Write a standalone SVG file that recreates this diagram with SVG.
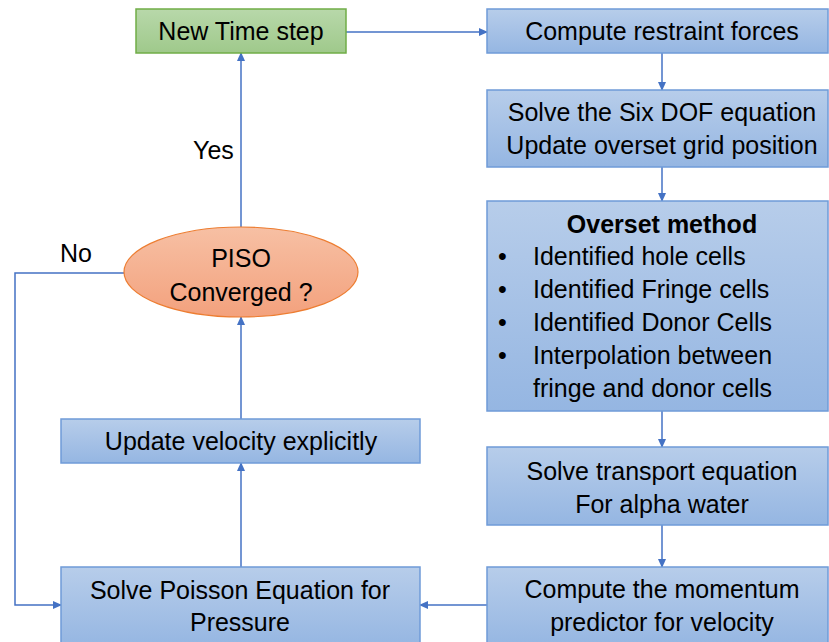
<svg xmlns="http://www.w3.org/2000/svg" width="829" height="642" viewBox="0 0 829 642">
<defs>
<linearGradient id="gBlue" x1="0" y1="0" x2="0" y2="1">
<stop offset="0" stop-color="#b7cdea"/>
<stop offset="1" stop-color="#95b6e2"/>
</linearGradient>
<linearGradient id="gGreen" x1="0" y1="0" x2="0" y2="1">
<stop offset="0" stop-color="#b8d8aa"/>
<stop offset="1" stop-color="#9fc98b"/>
</linearGradient>
<linearGradient id="gOrange" x1="0" y1="0" x2="0" y2="1">
<stop offset="0" stop-color="#f7c0a4"/>
<stop offset="1" stop-color="#f3a17d"/>
</linearGradient>
<marker id="arr" markerWidth="10" markerHeight="10" refX="8" refY="5" orient="auto" markerUnits="userSpaceOnUse">
<path d="M0,1 L9,5 L0,9 Z" fill="#4472c4"/>
</marker>
</defs>
<style>
.box{fill:url(#gBlue);stroke:#6f9bd8;stroke-width:1.5}
.green{fill:url(#gGreen);stroke:#70ad47;stroke-width:1.5}
.ell{fill:url(#gOrange);stroke:#ed7d31;stroke-width:1.2}
.t{font-family:"Liberation Sans",Arial,sans-serif;font-size:25px;fill:#000;text-anchor:middle}
.l{font-family:"Liberation Sans",Arial,sans-serif;font-size:25px;fill:#000}
.b{font-weight:bold}
.c{fill:none;stroke:#4472c4;stroke-width:1.5;marker-end:url(#arr)}
</style>
<g id="connectors">
<line class="c" x1="346" y1="32" x2="487" y2="32"/>
<line class="c" x1="662" y1="53" x2="662" y2="90"/>
<line class="c" x1="662" y1="167" x2="662" y2="201"/>
<line class="c" x1="662" y1="411" x2="662" y2="447"/>
<line class="c" x1="662" y1="525" x2="662" y2="567"/>
<line class="c" x1="487" y1="605" x2="420" y2="605"/>
<line class="c" x1="241" y1="567" x2="241" y2="463"/>
<line class="c" x1="241" y1="419" x2="241" y2="317"/>
<line class="c" x1="241" y1="227" x2="241" y2="53"/>
<polyline class="c" points="124,273 15,273 15,605 61,605"/>
<text class="l" x="193" y="159">Yes</text>
<text class="l" x="60" y="262">No</text>
</g>
<g id="new-time-step">
<rect class="green" x="136" y="9" width="210" height="44"/>
<text class="t" x="241" y="40">New Time step</text>
</g>
<g id="compute-restraint">
<rect class="box" x="487" y="9" width="341" height="44"/>
<text class="t" x="662" y="40">Compute restraint forces</text>
</g>
<g id="six-dof">
<rect class="box" x="487" y="90" width="341" height="77"/>
<text class="t" x="662" y="121">Solve the Six DOF equation</text>
<text class="t" x="662" y="154">Update overset grid position</text>
</g>
<g id="overset">
<rect class="box" x="487" y="201" width="341" height="210"/>
<text class="t b" x="662" y="233">Overset method</text>
<text class="l" x="498" y="265">•</text>
<text class="l" x="533" y="265">Identified hole cells</text>
<text class="l" x="498" y="298">•</text>
<text class="l" x="533" y="298">Identified Fringe cells</text>
<text class="l" x="498" y="331">•</text>
<text class="l" x="533" y="331">Identified Donor Cells</text>
<text class="l" x="498" y="364">•</text>
<text class="l" x="533" y="364">Interpolation between</text>
<text class="l" x="533" y="397">fringe and donor cells</text>
</g>
<g id="transport">
<rect class="box" x="487" y="447" width="341" height="78"/>
<text class="t" x="662" y="480">Solve transport equation</text>
<text class="t" x="662" y="513">For alpha water</text>
</g>
<g id="momentum">
<rect class="box" x="487" y="567" width="341" height="80"/>
<text class="t" x="662" y="598">Compute the momentum</text>
<text class="t" x="662" y="631">predictor for velocity</text>
</g>
<g id="poisson">
<rect class="box" x="61" y="567" width="359" height="80"/>
<text class="t" x="240" y="599">Solve Poisson Equation for</text>
<text class="t" x="240" y="631">Pressure</text>
</g>
<g id="update-velocity">
<rect class="box" x="61" y="419" width="359" height="44"/>
<text class="t" x="241" y="450">Update velocity explicitly</text>
</g>
<g id="piso">
<ellipse class="ell" cx="241" cy="272" rx="117" ry="45"/>
<text class="t" x="241" y="267">PISO</text>
<text class="t" x="241" y="301">Converged ?</text>
</g>
</svg>
